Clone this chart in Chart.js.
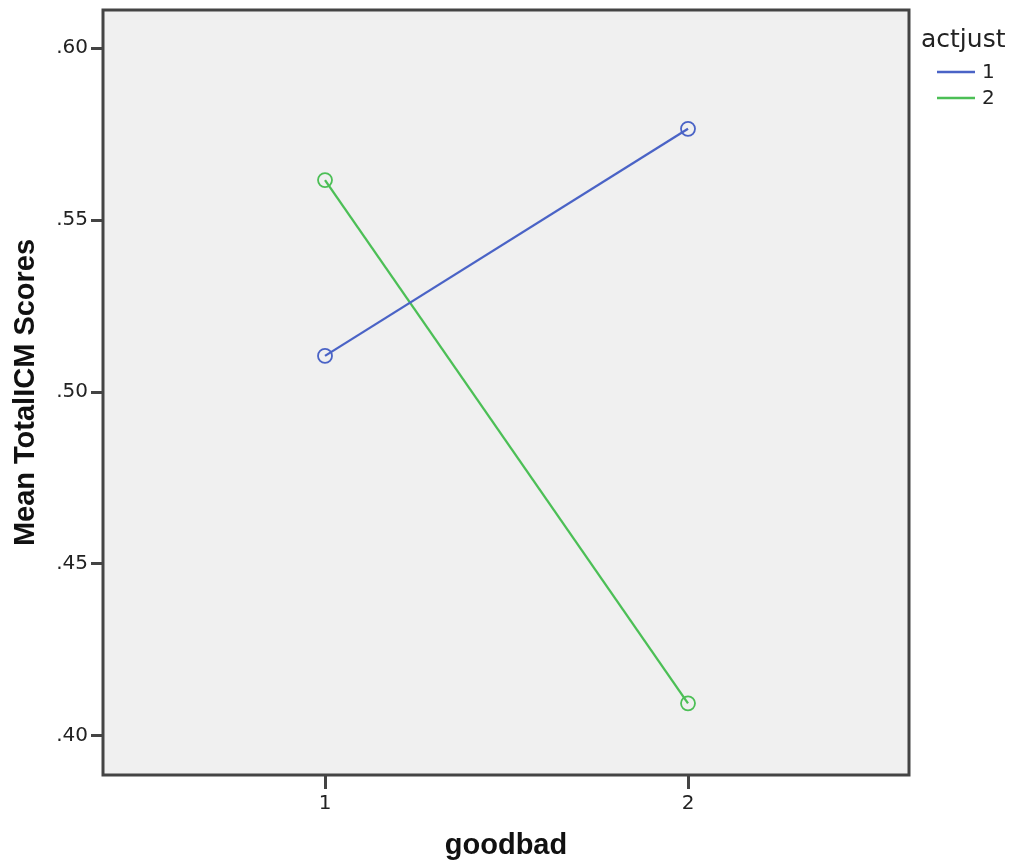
<!DOCTYPE html>
<html>
<head>
<meta charset="utf-8">
<script src="https://cdn.jsdelivr.net/npm/chart.js@4.4.1/dist/chart.umd.min.js"></script>
<style>
  html, body { margin: 0; padding: 0; background: #fff; }
  #wrap { width: 1014px; height: 865px; }
</style>
</head>
<body>
<div id="wrap"><canvas id="chart" width="1014" height="865"></canvas></div>
<script>
'use strict';

/* ---- data ---- */
const goodbad = [1, 2];
const actjust1 = [0.5105, 0.5765];
const actjust2 = [0.5616, 0.4095];
const seriesNames = ['1', '2'];
const yTicks = [0.40, 0.45, 0.50, 0.55, 0.60];
const xTicks = [1, 2];

const BLUE = '#4a63c6';
const GREEN = '#4cbf56';
const FRAME = '#444444';

/* background + frame + titles + legend */
const spssDecor = {
    id: 'spssDecor',
    beforeDraw(chart) {
        const { ctx, chartArea: a } = chart;
        ctx.save();
        ctx.fillStyle = '#f0f0f0';
        ctx.fillRect(a.left, a.top, a.right - a.left, a.bottom - a.top);
        ctx.restore();
    },
    afterDraw(chart) {
        const { ctx, chartArea: a } = chart;
        ctx.save();
        ctx.strokeStyle = FRAME;
        ctx.lineWidth = 3;
        ctx.strokeRect(a.left, a.top, a.right - a.left, a.bottom - a.top);

        // axis titles
        ctx.fillStyle = '#111';
        ctx.font = 'bold 29px "Liberation Sans", Arial, sans-serif';
        ctx.textAlign = 'center';
        ctx.textBaseline = 'alphabetic';
        ctx.fillText('goodbad', (a.left + a.right) / 2, 854);
        ctx.translate(34, (a.top + a.bottom) / 2);
        ctx.rotate(-Math.PI / 2);
        ctx.fillText('Mean TotalICM Scores', 0, 0);
        ctx.restore();

        // legend
        ctx.save();
        ctx.fillStyle = '#222';
        ctx.textAlign = 'left';
        ctx.textBaseline = 'alphabetic';
        ctx.font = '25px "DejaVu Sans", sans-serif';
        ctx.fillText('actjust', 921, 47);
        ctx.font = '20px "DejaVu Sans", sans-serif';
        ctx.textBaseline = 'middle';
        const rows = [[BLUE, seriesNames[0], 72], [GREEN, seriesNames[1], 98]];
        rows.forEach(([c, t, y]) => {
            ctx.strokeStyle = c;
            ctx.lineWidth = 2.5;
            ctx.beginPath();
            ctx.moveTo(937, y);
            ctx.lineTo(975, y);
            ctx.stroke();
            ctx.fillText(t, 982, y + 1);
        });
        ctx.restore();
    }
};

const toPts = ys => goodbad.map((x, i) => ({ x, y: ys[i] }));

new Chart(document.getElementById('chart'), {
    type: 'line',
    data: {
        datasets: [
            { label: seriesNames[0], data: toPts(actjust1), borderColor: BLUE, borderWidth: 2.3, pointRadius: 7, pointBorderWidth: 1.8, pointBackgroundColor: 'rgba(0,0,0,0)', pointBorderColor: BLUE, tension: 0 },
            { label: seriesNames[1], data: toPts(actjust2), borderColor: GREEN, borderWidth: 2.3, pointRadius: 7, pointBorderWidth: 1.8, pointBackgroundColor: 'rgba(0,0,0,0)', pointBorderColor: GREEN, tension: 0 },
        ],
    },
    options: {
        responsive: false, animation: false,
        layout: { padding: { top: 10, right: 105, left: 0, bottom: 0 } },
        plugins: { legend: { display: false }, tooltip: { enabled: false } },
        scales: {
            x: {
                type: 'linear', min: 0.3884, max: 2.6088,
                afterBuildTicks: s => { s.ticks = xTicks.map(v => ({ value: v })); },
                afterFit: s => { s.height = 90; s.paddingLeft = 0; s.paddingRight = 0; },
                grid: { drawOnChartArea: false, drawTicks: true, tickLength: 14, color: FRAME, lineWidth: 3 },
                border: { display: false },
                ticks: { padding: 3, color: '#222', font: { family: 'DejaVu Sans', size: 20 }, callback: v => String(v) },
            },
            y: {
                min: 0.38866, max: 0.61105,
                afterBuildTicks: s => { s.ticks = yTicks.map(v => ({ value: v })); },
                afterFit: s => { s.width = 103; s.paddingTop = 0; s.paddingBottom = 0; },
                grid: { drawOnChartArea: false, drawTicks: true, tickLength: 12, color: FRAME, lineWidth: 3 },
                border: { display: false },
                ticks: { padding: 3, color: '#222', font: { family: 'DejaVu Sans', size: 20 }, callback: v => v.toFixed(2).replace(/^0/, '') },
            },
        },
    },
    plugins: [spssDecor],
});
</script>
</body>
</html>
